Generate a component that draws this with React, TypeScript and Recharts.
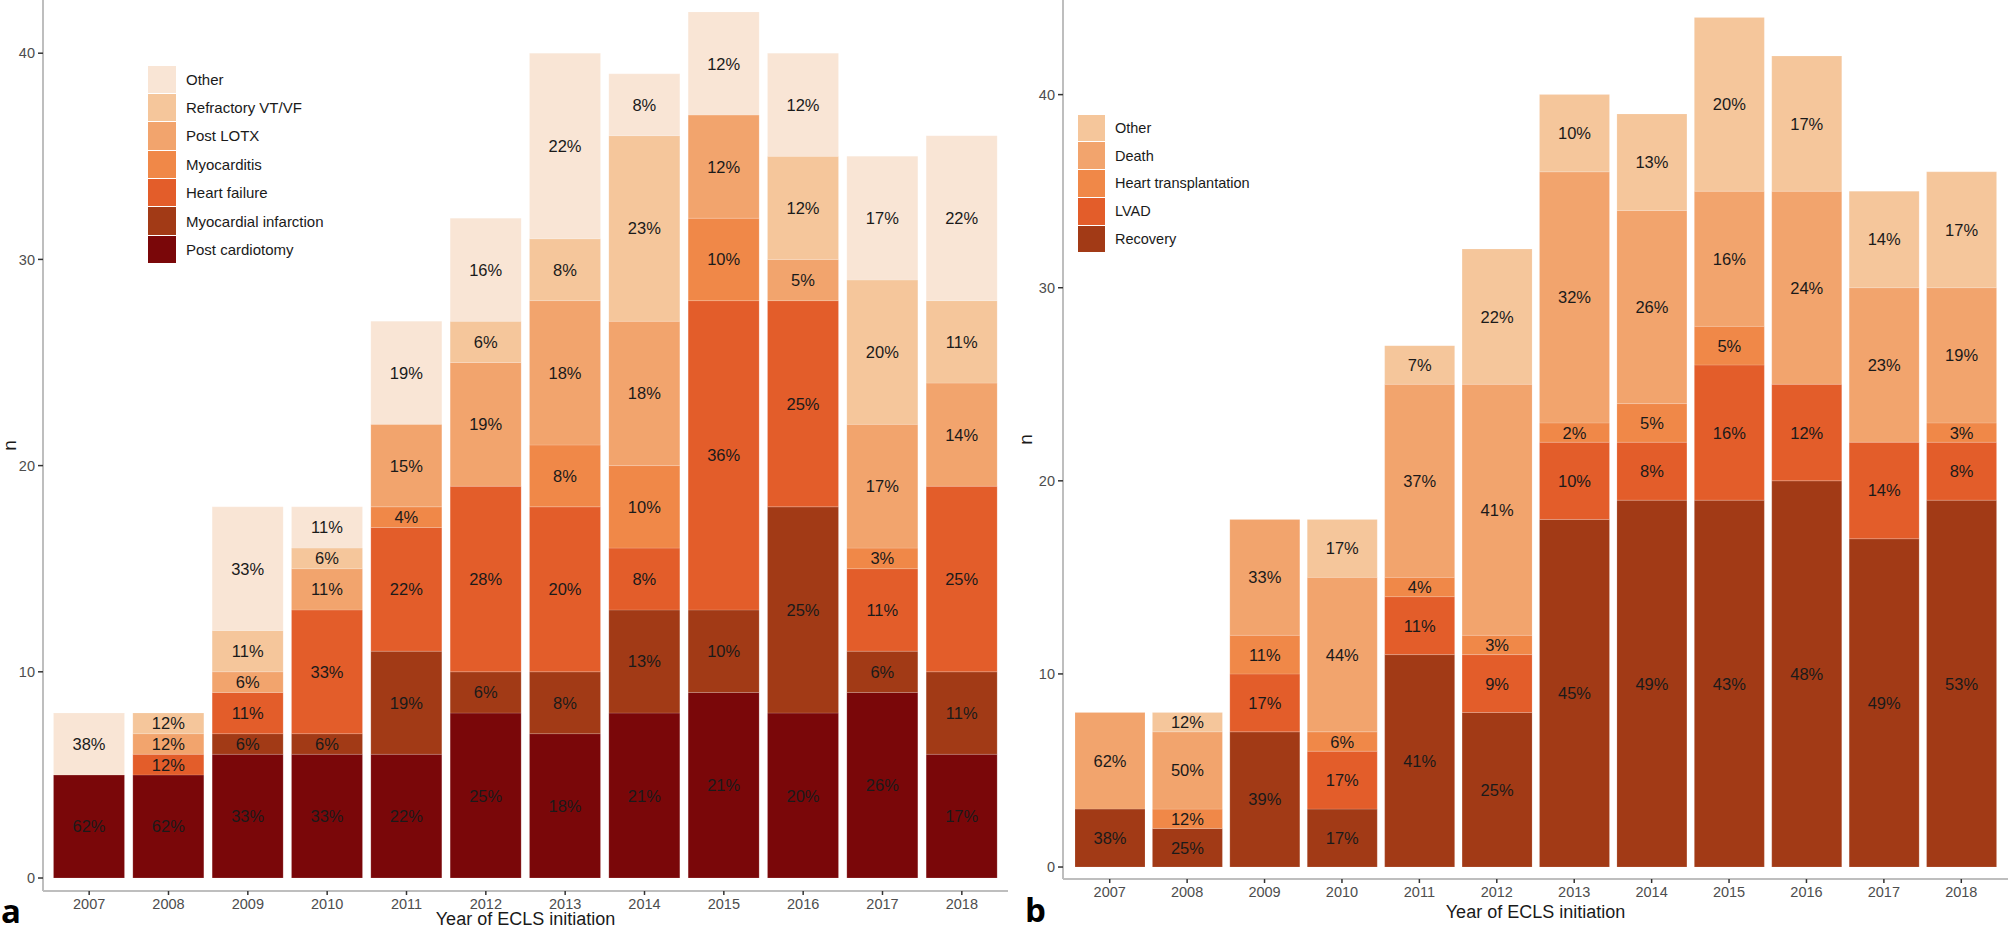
import React from "react";
import { BarChart, Bar, XAxis, YAxis, LabelList, Legend } from "recharts";

const years = ["2007", "2008", "2009", "2010", "2011", "2012", "2013", "2014", "2015", "2016", "2017", "2018"];

// panel a – indication for ECLS (patients per year)
const postCardiotomy = [5, 5, 6, 6, 6, 8, 7, 8, 9, 8, 9, 6];
const myocardialInfarction = [0, 0, 1, 1, 5, 2, 3, 5, 4, 10, 2, 4];
const heartFailure = [0, 1, 2, 6, 6, 9, 8, 3, 15, 10, 4, 9];
const myocarditis = [0, 0, 0, 0, 1, 0, 3, 4, 4, 0, 1, 0];
const postLotx = [0, 1, 1, 2, 4, 6, 7, 7, 5, 2, 6, 5];
const refractoryVtVf = [0, 1, 2, 1, 0, 2, 3, 9, 0, 5, 7, 4];
const otherIndication = [3, 0, 6, 2, 5, 5, 9, 3, 5, 5, 6, 8];

// panel b – outcome (patients per year)
const recovery = [3, 2, 7, 3, 11, 8, 18, 19, 19, 20, 17, 19];
const lvad = [0, 0, 3, 3, 3, 3, 4, 3, 7, 5, 5, 3];
const heartTx = [0, 1, 2, 1, 1, 1, 1, 2, 2, 0, 0, 1];
const death = [5, 4, 6, 8, 10, 13, 13, 10, 7, 10, 8, 7];
const otherOutcome = [0, 1, 0, 3, 2, 7, 4, 5, 9, 7, 5, 6];

const yTicks = [0, 10, 20, 30, 40];

const seriesA = [
  { key: "pc", name: "Post cardiotomy", values: postCardiotomy, color: "#7A0709" },
  { key: "mi", name: "Myocardial infarction", values: myocardialInfarction, color: "#A23A16" },
  { key: "hf", name: "Heart failure", values: heartFailure, color: "#E35D2A" },
  { key: "myo", name: "Myocarditis", values: myocarditis, color: "#F08848" },
  { key: "lotx", name: "Post LOTX", values: postLotx, color: "#F2A46D" },
  { key: "vt", name: "Refractory VT/VF", values: refractoryVtVf, color: "#F5C69B" },
  { key: "oth", name: "Other", values: otherIndication, color: "#F9E5D5" },
];

const seriesB = [
  { key: "rec", name: "Recovery", values: recovery, color: "#A23A16" },
  { key: "lvad", name: "LVAD", values: lvad, color: "#E35D2A" },
  { key: "htx", name: "Heart transplantation", values: heartTx, color: "#F08848" },
  { key: "death", name: "Death", values: death, color: "#F2A46D" },
  { key: "oth", name: "Other", values: otherOutcome, color: "#F5C69B" },
];

type Series = { key: string; name: string; values: number[]; color: string };

// R-style rounding (half to even)
const pct = (v: number, t: number) => {
  const x = (v * 100) / t;
  const f = Math.floor(x);
  if (x - f === 0.5) return f % 2 === 0 ? f : f + 1;
  return Math.round(x);
};

const buildRows = (series: Series[]) =>
  years.map((year, i) => {
    const row: Record<string, any> = { year };
    const total = series.reduce((acc, s) => acc + s.values[i], 0);
    series.forEach((s) => {
      const v = s.values[i];
      row[s.key] = v;
      row[s.key + "Pct"] = v > 0 ? pct(v, total) + "%" : "";
    });
    return row;
  });

const rowsA = buildRows(seriesA);
const rowsB = buildRows(seriesB);

const FONT = "'Liberation Sans', Arial, sans-serif";

const PctLabel = (props: any) => {
  const { x, y, width, height, value } = props;
  if (!value) return null;
  return (
    <text
      x={Number(x) + Number(width) / 2}
      y={Number(y) + Number(height) / 2}
      textAnchor="middle"
      dominantBaseline="central"
      fontSize={16.5}
      fill="#1a1a1a"
      fontFamily={FONT}
    >
      {value}
    </text>
  );
};

const NLabel = (props: any) => {
  const { viewBox, baseX } = props;
  const cy = viewBox.y + viewBox.height / 2;
  return (
    <text
      x={baseX}
      y={cy}
      transform={`rotate(-90 ${baseX} ${cy})`}
      textAnchor="middle"
      fontSize={19}
      fill="#1a1a1a"
      fontFamily={FONT}
    >
      n
    </text>
  );
};

const legendContent = (series: Series[], fontSize: number, keyW: number, rowH: number) => () => (
  <div style={{ fontFamily: FONT }}>
    {[...series].reverse().map((s) => (
      <div key={s.key} style={{ display: "flex", alignItems: "center", height: rowH }}>
        <div style={{ width: keyW, height: rowH - 1, background: s.color }} />
        <span style={{ marginLeft: 10, fontSize, color: "#1a1a1a", whiteSpace: "nowrap" }}>{s.name}</span>
      </div>
    ))}
  </div>
);

const axisLine = { stroke: "#BEBEBE", strokeWidth: 2 };
const tickLine = { stroke: "#333333", strokeWidth: 1.5 };
const tickStyle = { fill: "#4D4D4D", fontSize: 14.5, fontFamily: FONT };

type PanelProps = {
  rows: Record<string, any>[];
  series: Series[];
  width: number;
  height: number;
  axisBottom: number;
  axisWidth: number;
  domain: [number, number];
  padX: number;
  barSize: number;
  titleOffset: number;
  nX: number;
  legendPos: { left: number; top: number };
  legendFont: number;
  legendKey: number;
  legendRow: number;
};

function Panel(p: PanelProps) {
  return (
    <BarChart
      width={p.width}
      height={p.height}
      data={p.rows}
      margin={{ top: 0, right: 2, bottom: 0, left: 0 }}
      barSize={p.barSize}
    >
      <XAxis
        dataKey="year"
        interval={0}
        height={p.height - p.axisBottom}
        padding={{ left: p.padX, right: p.padX }}
        axisLine={axisLine}
        tickLine={tickLine}
        tickSize={4}
        tickMargin={4}
        tick={tickStyle}
        label={{
          value: "Year of ECLS initiation",
          position: "insideBottom",
          offset: p.titleOffset,
          fill: "#1a1a1a",
          fontSize: 18,
          fontFamily: FONT,
        }}
      />
      <YAxis
        width={p.axisWidth}
        type="number"
        domain={p.domain}
        allowDataOverflow
        ticks={yTicks}
        axisLine={axisLine}
        tickLine={tickLine}
        tickSize={5}
        tickMargin={3}
        tick={tickStyle}
        label={<NLabel baseX={p.nX} />}
      />
      <Legend
        layout="vertical"
        align="center"
        verticalAlign="middle"
        wrapperStyle={{ left: p.legendPos.left, top: p.legendPos.top, width: 280, height: "auto" }}
        content={legendContent(p.series, p.legendFont, p.legendKey, p.legendRow)}
      />
      {p.series.map((s) => (
        <Bar
          key={s.key}
          dataKey={s.key}
          name={s.name}
          stackId="a"
          fill={s.color}
          stroke="#ffffff"
          strokeWidth={0.5}
          strokeOpacity={0.3}
          isAnimationActive={false}
        >
          <LabelList dataKey={s.key + "Pct"} content={<PctLabel />} />
        </Bar>
      ))}
    </BarChart>
  );
}

export default function App() {
  return (
    <div
      style={{
        position: "absolute",
        left: 0,
        top: 0,
        width: 2008,
        height: 930,
        background: "#ffffff",
        overflow: "hidden",
        fontFamily: FONT,
      }}
    >
      <div style={{ position: "absolute", left: 0, top: 0 }}>
        <Panel
          rows={rowsA}
          series={seriesA}
          width={1010}
          height={930}
          axisBottom={891}
          axisWidth={43}
          domain={[-0.63, 42.58]}
          padX={6.5}
          barSize={71}
          titleOffset={5}
          nX={16}
          legendPos={{ left: 148, top: 65 }}
          legendFont={15}
          legendKey={28}
          legendRow={28.4}
        />
      </div>
      <div style={{ position: "absolute", left: 1000, top: 0 }}>
        <Panel
          rows={rowsB}
          series={seriesB}
          width={1010}
          height={930}
          axisBottom={879}
          axisWidth={63}
          domain={[-0.62, 44.9]}
          padX={8}
          barSize={70}
          titleOffset={12}
          nX={32}
          legendPos={{ left: 78, top: 114 }}
          legendFont={14.5}
          legendKey={27}
          legendRow={27.8}
        />
      </div>
      <div style={{ position: "absolute", left: 1, top: 894, fontSize: 33, fontWeight: 700, fontFamily: "'Open Sans', sans-serif", lineHeight: "33px" }}>
        a
      </div>
      <div style={{ position: "absolute", left: 1025, top: 893, fontSize: 33, fontWeight: 700, fontFamily: "'Open Sans', sans-serif", lineHeight: "33px" }}>
        b
      </div>
    </div>
  );
}
